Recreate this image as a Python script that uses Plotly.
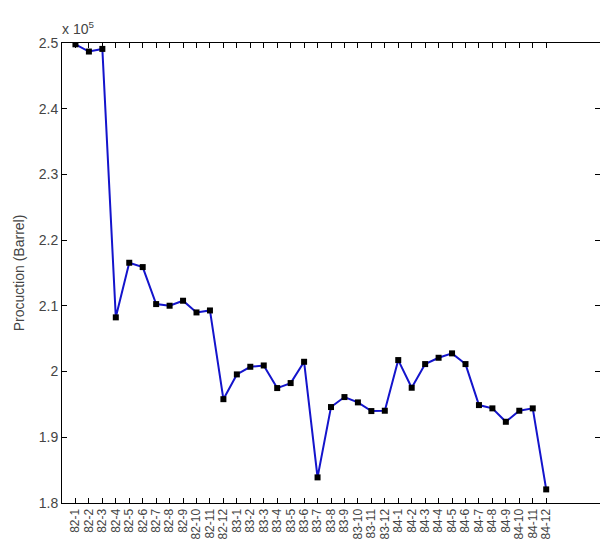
import plotly.graph_objects as go

months = [f"{yy}-{m}" for yy in (82, 83, 84) for m in range(1, 13)]
production = [
    249800, 248700, 249100, 208250, 216560, 215900, 210270, 210020, 210780, 209000,
    209300, 195800, 199570, 200730, 200930, 197490, 198250, 201490, 183900, 194600,
    196120, 195310, 193990, 194040, 201750, 197540, 201140, 202100, 202770, 201140,
    194900, 194400, 192360, 194040, 194400, 182070,
]
ytick_vals = [180000, 190000, 200000, 210000, 220000, 230000, 240000, 250000]
ytick_text = ["1.8", "1.9", "2", "2.1", "2.2", "2.3", "2.4", "2.5"]

fig = go.Figure()
fig.add_trace(go.Scatter(
    x=months, y=production, mode="lines+markers",
    line=dict(color="#1414cc", width=2),
    marker=dict(symbol="square", size=6, color="black"),
    showlegend=False,
))

fig.update_layout(
    width=600, height=551,
    margin=dict(l=62, r=0, t=43, b=48, autoexpand=False),
    paper_bgcolor="white", plot_bgcolor="white",
    font=dict(family="Liberation Sans, Arial, sans-serif", color="#444444", size=13),
    xaxis=dict(
        type="category", range=[-1, 39],
        tickmode="array", tickvals=months, ticktext=months,
        showline=True, linecolor="black", linewidth=1, mirror="ticks",
        ticks="inside", ticklen=5, tickcolor="black",
        tickangle=-90, tickfont=dict(size=12),
        showgrid=False, zeroline=False,
    ),
    yaxis=dict(
        range=[180000, 250000],
        tickvals=ytick_vals, ticktext=ytick_text,
        showline=True, linecolor="black", linewidth=1, mirror="ticks",
        ticks="inside", ticklen=5, tickcolor="black",
        tickfont=dict(size=14),
        showgrid=False, zeroline=False,
        title=dict(text="Procuction (Barrel)", font=dict(size=14), standoff=10),
    ),
    annotations=[dict(
        text="x 10<sup>5</sup>", xref="paper", yref="paper", x=0, y=1,
        xanchor="left", yanchor="bottom", showarrow=False,
        font=dict(size=14, color="#444444"), yshift=4, xshift=-2,
    )],
)

fig.write_html("out.html", config={"displayModeBar": False},
               post_script="document.body.style.margin='0px';")
